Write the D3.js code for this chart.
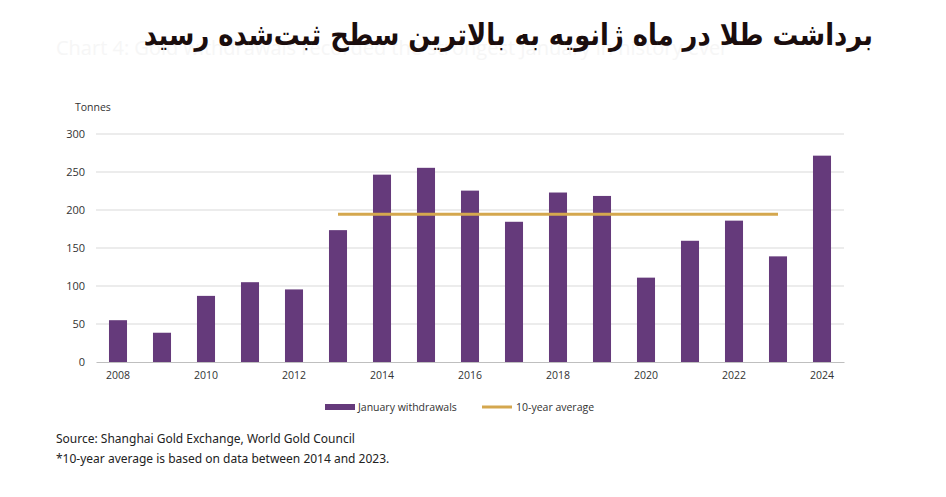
<!DOCTYPE html>
<html><head><meta charset="utf-8">
<script src="https://cdn.jsdelivr.net/npm/d3@7/dist/d3.min.js"></script>
<style>body{margin:0;background:#fff}svg{display:block}</style>
</head><body>
<svg id="c" width="946" height="497"></svg>
<script>
const years = ["2008","2009","2010","2011","2012","2013","2014","2015","2016","2017","2018","2019","2020","2021","2022","2023","2024"];
const withdrawals = [55, 38.5, 87, 105, 95.5, 173.5, 246.5, 255.5, 225.5, 184.5, 223, 218.5, 111, 159.5, 186, 139, 271.5];
const avgYears = ["2013","2023"];
const avgValue = 194.5;
const yTicks = [0,50,100,150,200,250,300];
const xLabels = ["2008","2010","2012","2014","2016","2018","2020","2022","2024"];
const titleText = "برداشت طلا در ماه ژانویه به بالاترین سطح ثبت‌شده رسید";
const ghostText = "Chart 4: Gold withdrawals recorded the strongest January in history ever";
const legendLabels = ["January withdrawals","10-year average"];
const notes = ["Source: Shanghai Gold Exchange, World Gold Council","*10-year average is based on data between 2014 and 2023."];

const svg = d3.select("#c");
const font = "'Open Sans', 'Noto Sans', sans-serif";
const barColor = "#653a7b", goldColor = "#d4a74e";

svg.append("text").attr("x",56).attr("y",55).attr("font-family",font).attr("font-size",20)
  .attr("fill","#f6f6f6").text(ghostText);
svg.append("g").attr("transform","translate(873,45) scale(1,1.15)")
  .append("text").attr("x",0).attr("y",0).attr("text-anchor","start").attr("direction","rtl")
  .attr("font-family","'DejaVu Sans', sans-serif").attr("font-weight","bold").attr("font-size",25.8)
  .attr("fill","#1a0d0d").text(titleText);

const x = d3.scaleBand().domain(years).range([96,844]).paddingInner(0.59).paddingOuter(0.295);
const y = d3.scaleLinear().domain([0,300]).range([362,134]);

// gridlines
svg.append("g").selectAll("line").data(yTicks.filter(d=>d>0)).join("line")
  .attr("x1",96).attr("x2",844).attr("y1",d=>y(d)).attr("y2",d=>y(d))
  .attr("stroke","#d9d9d9").attr("stroke-width",1);

const yAxis = svg.append("g").attr("transform","translate(96,0)")
  .call(d3.axisLeft(y).tickValues(yTicks).tickSize(0).tickPadding(11));
yAxis.select(".domain").remove();
yAxis.selectAll("text").attr("font-family",font).attr("font-size",11).attr("fill","#333");

svg.append("text").attr("x",75).attr("y",111).attr("font-family",font).attr("font-size",10.5)
  .attr("fill","#333").text("Tonnes");

svg.append("g").selectAll("rect").data(years).join("rect")
  .attr("x",d=>x(d)).attr("width",x.bandwidth())
  .attr("y",(d,i)=>y(withdrawals[i])).attr("height",(d,i)=>y(0)-y(withdrawals[i]))
  .attr("fill",barColor);

const xAxis = svg.append("g").attr("transform","translate(0,362)")
  .call(d3.axisBottom(x).tickValues(xLabels).tickSize(0).tickPadding(10));
xAxis.select(".domain").attr("stroke","#bfbfbf");
xAxis.selectAll("text").attr("font-family",font).attr("font-size",10.5).attr("fill","#333");

const cx = d => x(d) + x.bandwidth()/2;
svg.append("line").attr("x1",cx(avgYears[0])).attr("x2",cx(avgYears[1]))
  .attr("y1",y(avgValue)).attr("y2",y(avgValue)).attr("stroke",goldColor).attr("stroke-width",3);

// legend
const lg = svg.append("g");
lg.append("rect").attr("x",325).attr("y",404).attr("width",30).attr("height",6).attr("fill",barColor);
lg.append("text").attr("x",358).attr("y",411).attr("font-family",font).attr("font-size",10.5).attr("fill","#333").text(legendLabels[0]);
lg.append("line").attr("x1",482).attr("x2",512).attr("y1",407).attr("y2",407).attr("stroke",goldColor).attr("stroke-width",3);
lg.append("text").attr("x",516).attr("y",411).attr("font-family",font).attr("font-size",10.5).attr("fill","#333").text(legendLabels[1]);

svg.append("g").selectAll("text").data(notes).join("text")
  .attr("x",56).attr("y",(d,i)=>443+i*20).attr("font-family","'Noto Sans', sans-serif")
  .attr("font-size",12).attr("fill","#222").text(d=>d);
</script>
</body></html>
